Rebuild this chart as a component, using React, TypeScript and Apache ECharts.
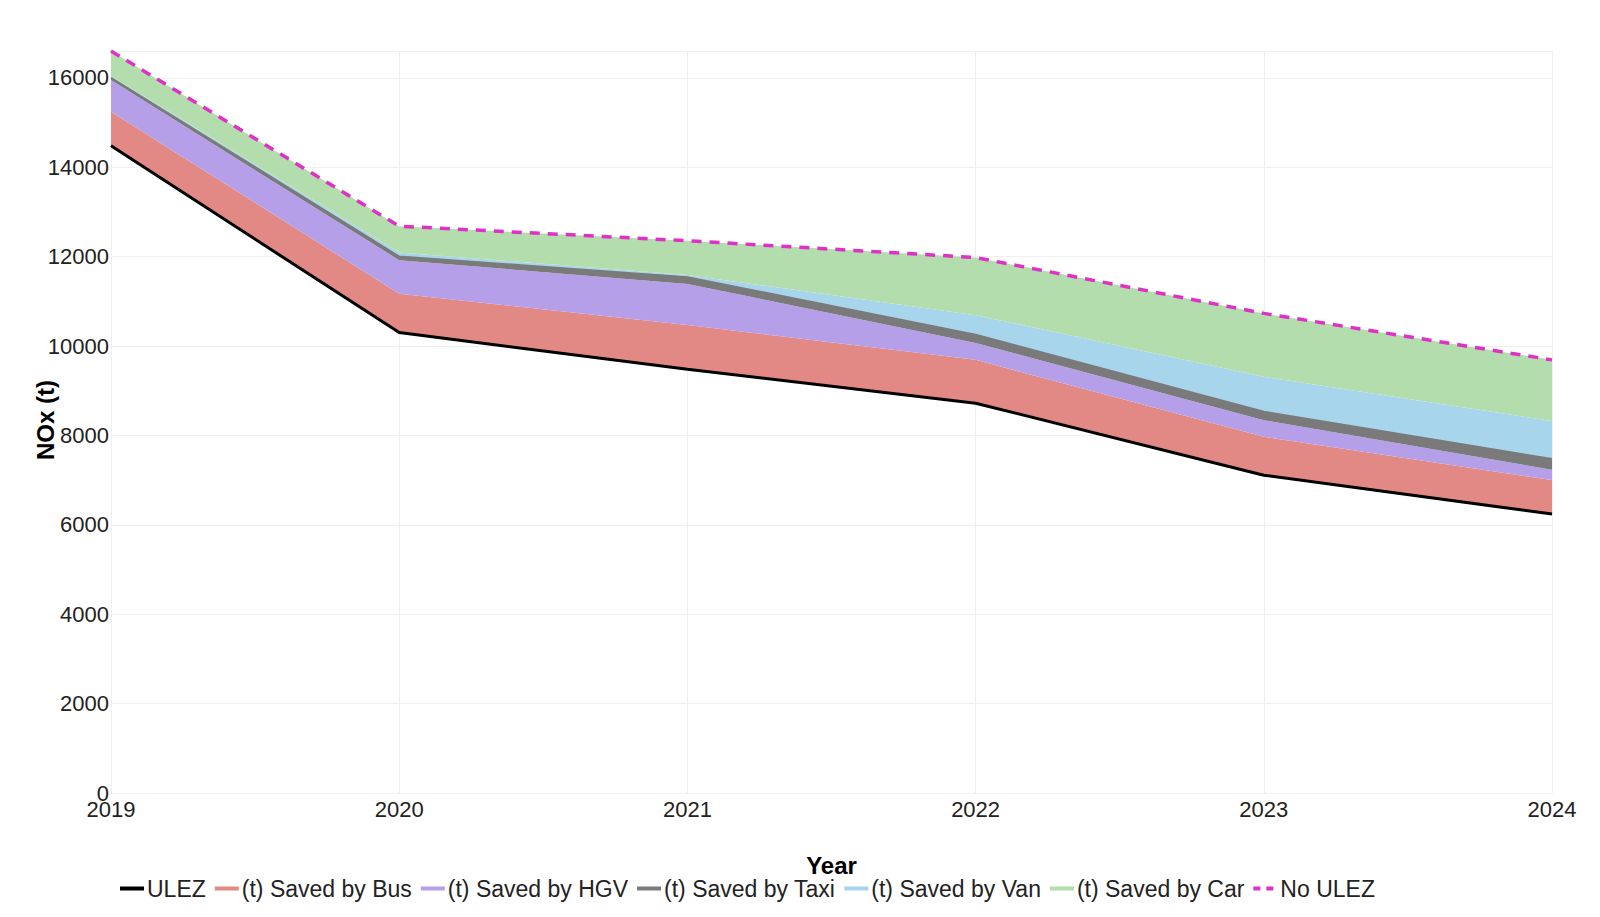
import React, { useEffect, useRef } from "react";
import * as echarts from "echarts";

const years = ["2019", "2020", "2021", "2022", "2023", "2024"];
const ulez = [14480, 10300, 9480, 8720, 7110, 6240];
const savedBus = [760, 870, 990, 970, 860, 760];
const savedHgv = [710, 750, 920, 380, 370, 230];
const savedTaxi = [50, 80, 150, 180, 190, 240];
const savedVan = [40, 90, 50, 440, 780, 850];
const savedCar = [560, 590, 765, 1290, 1420, 1370];
const noUlez = [16600, 12680, 12355, 11980, 10730, 9690];

const yTicks = [0, 2000, 4000, 6000, 8000, 10000, 12000, 14000, 16000];

const FONT = "Liberation Sans, Arial, sans-serif";

export default function App() {
  const ref = useRef<HTMLDivElement>(null);
  useEffect(() => {
    if (!ref.current) return;
    const chart = echarts.init(ref.current, undefined, { renderer: "svg" });
    const areaSeries = (name: string, data: number[], color: string, lineWidth: number) => ({
      name,
      type: "line",
      stack: "total",
      data,
      symbol: "none",
      showSymbol: false,
      z: 2,
      lineStyle: { color, width: lineWidth },
      itemStyle: { color },
      areaStyle: { color, opacity: 1 },
    });
    chart.setOption({
      animation: false,
      textStyle: { fontFamily: FONT },
      grid: { left: 111, right: 48, top: 51, bottom: 124, containLabel: false },
      graphic: [
        {
          type: "text",
          x: 45,
          y: 420,
          rotation: Math.PI / 2,
          style: {
            text: "NOx (t)",
            fontSize: 24,
            fontWeight: "bold",
            fontFamily: FONT,
            fill: "#000",
            textAlign: "center",
            textVerticalAlign: "middle",
          },
        },
      ],
      xAxis: {
        type: "category",
        data: years,
        boundaryGap: false,
        name: "Year",
        nameLocation: "middle",
        nameGap: 60,
        nameTextStyle: { fontSize: 24, fontWeight: "bold", color: "#000", fontFamily: FONT },
        axisLine: { show: false },
        axisTick: { show: false },
        axisLabel: { fontSize: 22, color: "#222", margin: 5, fontFamily: FONT },
        splitLine: { show: true, lineStyle: { color: "#efefef", width: 1 } },
      },
      yAxis: {
        type: "value",
        min: 0,
        max: 16600,
        interval: 2000,
        axisLine: { show: false },
        axisTick: { show: false },
        axisLabel: {
          fontSize: 22,
          color: "#222",
          margin: 2,
          fontFamily: FONT,
          showMaxLabel: false,
          formatter: (v: number) => (yTicks.includes(v) ? String(v) : ""),
        },
        splitLine: { show: true, lineStyle: { color: "#efefef", width: 1 } },
      },
      legend: {
        left: 113,
        top: 872,
        itemWidth: 24,
        itemHeight: 12,
        itemGap: 7,
        itemStyle: { opacity: 0 },
        textStyle: { fontSize: 23, color: "#222", fontFamily: FONT, padding: [0, 0, 0, -2] },
        data: [
          { name: "ULEZ", lineStyle: { width: 4, color: "#000" } },
          { name: "(t) Saved by Bus", lineStyle: { width: 4, color: "#e28985" } },
          { name: "(t) Saved by HGV", lineStyle: { width: 4, color: "#b69fe9" } },
          { name: "(t) Saved by Taxi", lineStyle: { width: 4, color: "#7a7a7a" } },
          { name: "(t) Saved by Van", lineStyle: { width: 4, color: "#a7d5ec" } },
          { name: "(t) Saved by Car", lineStyle: { width: 4, color: "#b4ddae" } },
          { name: "No ULEZ", lineStyle: { width: 4, color: "#e030c8", type: [7, 6] } },
        ],
      },
      series: [
        {
          name: "ULEZ",
          type: "line",
          stack: "total",
          data: ulez,
          symbol: "none",
          showSymbol: false,
          z: 5,
          itemStyle: { color: "#000" },
          lineStyle: { color: "#000", width: 3 },
        },
        areaSeries("(t) Saved by Bus", savedBus, "#e28985", 0),
        areaSeries("(t) Saved by HGV", savedHgv, "#b69fe9", 0),
        areaSeries("(t) Saved by Taxi", savedTaxi, "#7a7a7a", 2),
        areaSeries("(t) Saved by Van", savedVan, "#a7d5ec", 0),
        areaSeries("(t) Saved by Car", savedCar, "#b4ddae", 0),
        {
          name: "No ULEZ",
          type: "line",
          data: noUlez,
          symbol: "none",
          showSymbol: false,
          z: 6,
          itemStyle: { color: "#e030c8" },
          lineStyle: { color: "#e030c8", width: 3.5, type: [10, 8] },
        },
      ],
    });
    return () => chart.dispose();
  }, []);
  return (
    <div
      ref={ref}
      style={{ position: "fixed", left: 0, top: 0, width: 1600, height: 917, background: "#fff" }}
    />
  );
}
